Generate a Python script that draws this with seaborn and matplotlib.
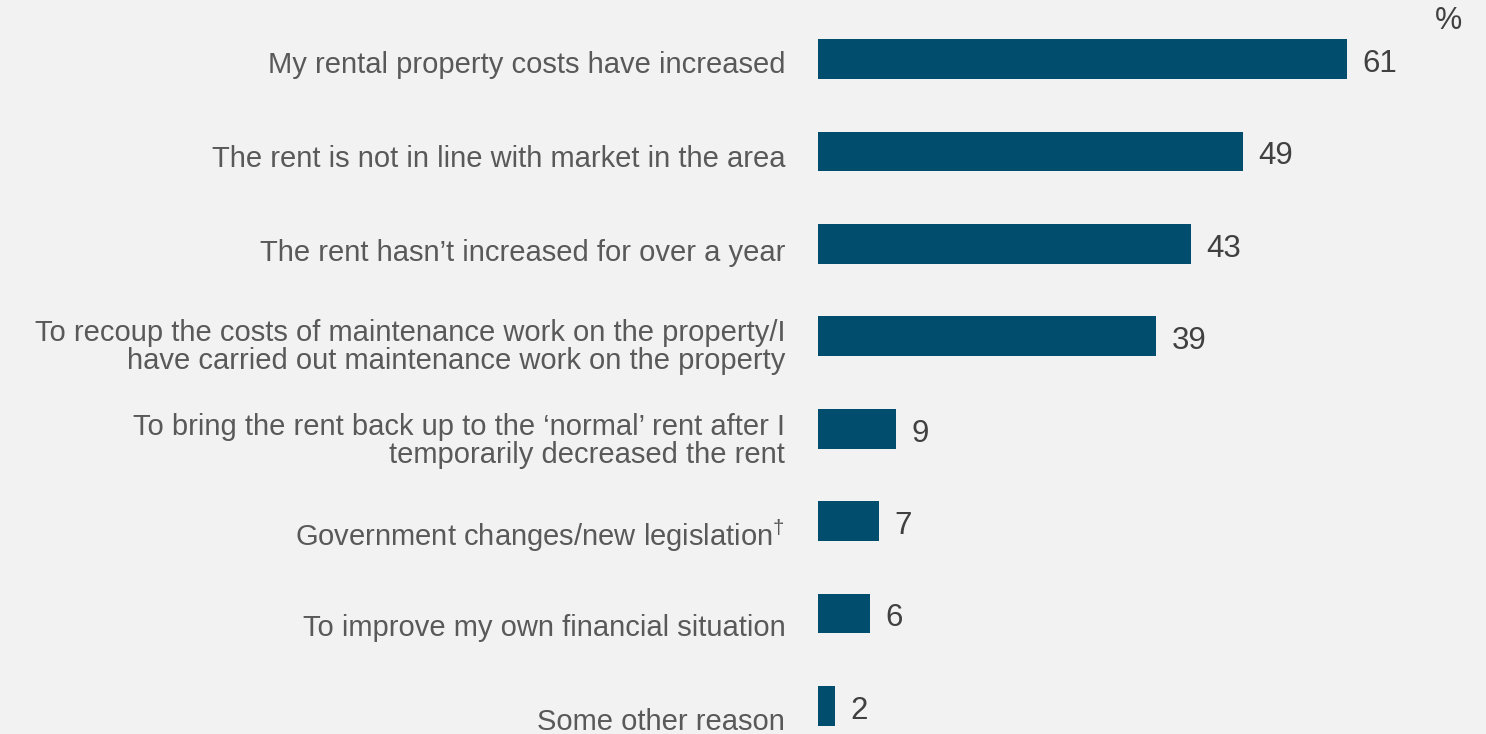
import matplotlib
matplotlib.use("Agg")
import matplotlib.pyplot as plt
import matplotlib.transforms as mtransforms
import seaborn as sns
import pandas as pd

categories = [
    "My rental property costs have increased",
    "The rent is not in line with market in the area",
    "The rent hasn\u2019t increased for over a year",
    "To recoup the costs of maintenance work on the property/I\nhave carried out maintenance work on the property",
    "To bring the rent back up to the \u2018normal\u2019 rent after I\ntemporarily decreased the rent",
    "Government changes/new legislation$^{\u2020}$",
    "To improve my own financial situation",
    "Some other reason",
]
values = [61, 49, 43, 39, 9, 7, 6, 2]

BG = "#f2f2f2"
BAR = "#004d6e"
LABEL_COL = "#595959"
VALUE_COL = "#404040"

sns.set_theme(style="white")
plt.rcParams["font.family"] = ["Liberation Sans", "DejaVu Sans"]
plt.rcParams["mathtext.fontset"] = "custom"
plt.rcParams["mathtext.rm"] = "Liberation Sans"
plt.rcParams["mathtext.it"] = "Liberation Sans"
plt.rcParams["mathtext.bf"] = "Liberation Sans"

df = pd.DataFrame({"category": categories, "value": values})

fig = plt.figure(figsize=(14.86, 7.34), dpi=100, facecolor=BG)
ax = fig.add_axes([818 / 1486, 0.0, 607 / 1486, 721.2 / 734])
ax.set_facecolor(BG)

sns.barplot(data=df, x="value", y="category", orient="h", color=BAR,
            width=0.43, saturation=1, ax=ax, edgecolor="none")

ax.set_xlim(0, 70)
ax.set_ylim(7.303, -0.5)
ax.set_xlabel("")
ax.set_ylabel("")
ax.set_xticks([])
for s in ax.spines.values():
    s.set_visible(False)

ax.tick_params(axis="y", length=0, pad=23.5)
ax.set_yticks(range(len(categories)))
ax.set_yticklabels(categories, fontsize=21, color=LABEL_COL, linespacing=1.02)
for i, lab in enumerate(ax.get_yticklabels()):
    off = -(3 + 1.45 * i) / 100.0
    lab.set_transform(lab.get_transform() + mtransforms.ScaledTranslation(0, off, fig.dpi_scale_trans))

for cont in ax.containers:
    texts = ax.bar_label(cont, labels=[str(v) for v in values], padding=11,
                         fontsize=22.5, color=VALUE_COL)
    for t in texts:
        t.xyann = (11, -3.5)

fig.text(1449 / 1486, 1 - 21 / 734, "%", ha="center", va="center",
         fontsize=22, color=VALUE_COL)

fig.savefig("out.png", dpi=100, facecolor=BG)
